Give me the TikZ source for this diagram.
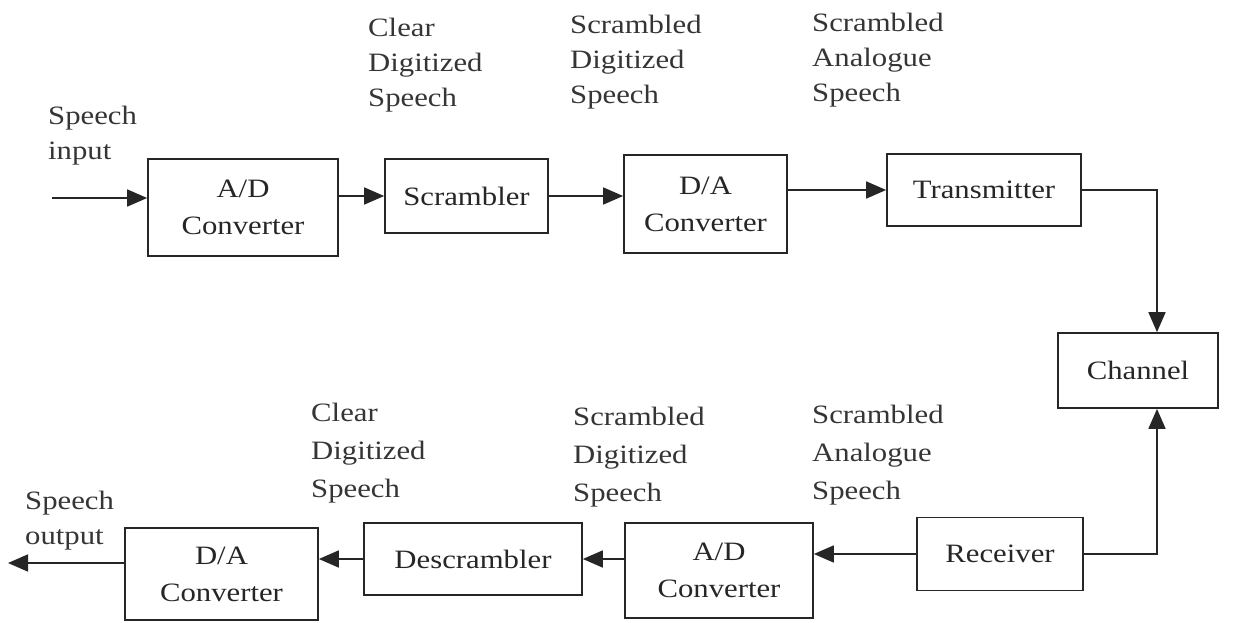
\documentclass[tikz,border=0pt]{standalone}
\usepackage{fontspec}
\setmainfont{Liberation Serif}[FakeStretch=1.16]
\usetikzlibrary{arrows.meta}
\definecolor{ink}{HTML}{262626}
\definecolor{lab}{HTML}{353535}
\tikzset{
  blk/.style={draw=ink, line width=1.7pt, minimum width=#1, inner sep=0pt, align=center, text=ink, font=\fontsize{26.5}{37}\selectfont},
  lbl/.style={anchor=north west, inner sep=0pt, align=left, text=lab, font=\fontsize{26.5}{35}\selectfont},
  lblb/.style={lbl, font=\fontsize{26.5}{38}\selectfont},
  arr/.style={draw=ink, line width=1.7pt, -{Triangle[length=20pt,width=17pt]}},
}
\begin{document}
\begin{tikzpicture}[x=1pt,y=-1pt]
\useasboundingbox (0,0) rectangle (1235,623);
% top row
\node[blk=190pt, minimum height=97pt] (ad1) at (243,207.5) {A/D\\Converter};
\node[blk=163pt, minimum height=74pt] (scr) at (466.5,196) {Scrambler};
\node[blk=163pt, minimum height=98pt] (da1) at (705.5,204) {D/A\\Converter};
\node[blk=194pt, minimum height=72pt] (tx) at (984,190) {Transmitter};
\node[blk=160pt, minimum height=75pt] (ch) at (1138,370.5) {Channel};
% bottom row
\node[blk=166pt, minimum height=73pt] (rx) at (1000,554) {Receiver};
\node[blk=188pt, minimum height=95pt] (ad2) at (719,570.5) {A/D\\Converter};
\node[blk=218pt, minimum height=72pt] (desc) at (473,559) {Descrambler};
\node[blk=193pt, minimum height=92pt] (da2) at (221.5,574) {D/A\\Converter};
% free ends
\coordinate (in) at (52,198);
\coordinate (out) at (8,563);
% connectors
\draw[arr] (in) -- (in -| ad1.west);
\draw[arr] (ad1.east |- scr.west) -- (scr.west);
\draw[arr] (scr.east) -- (scr.east -| da1.west);
\draw[arr] (da1.east |- tx.west) -- (tx.west);
\draw[arr] (tx.east) -| ([xshift=19pt]ch.north);
\draw[arr] (rx.east) -| ([xshift=19pt]ch.south);
\draw[arr] (rx.west) -- (rx.west -| ad2.east);
\draw[arr] (ad2.west |- desc.east) -- (desc.east);
\draw[arr] (desc.west) -- (desc.west -| da2.east);
\draw[arr] (da2.west |- out) -- (out);
% labels
\node[lbl] (lin) at (48,106) {Speech\\input};
\node[lbl] (l1) at (368,18) {Clear\\Digitized\\Speech};
\node[lbl] (l2) at (570,15) {Scrambled\\Digitized\\Speech};
\node[lbl] (l3) at (812,13) {Scrambled\\Analogue\\Speech};
\node[lblb] (l4) at (311,403) {Clear\\Digitized\\Speech};
\node[lblb] (l5) at (573,407) {Scrambled\\Digitized\\Speech};
\node[lblb] (l6) at (812,405) {Scrambled\\Analogue\\Speech};
\node[lbl] (lout) at (25,491) {Speech\\output};
\end{tikzpicture}
\end{document}
